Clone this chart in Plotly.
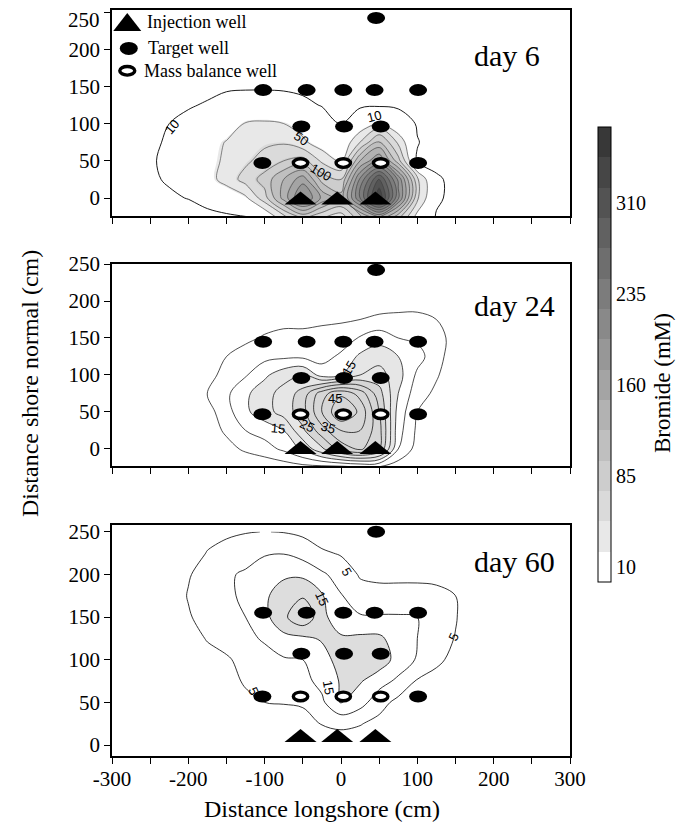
import plotly.graph_objects as go

# ---------------- data ----------------
grid_x = [-275, -250, -225, -200, -175, -150, -125, -100, -75, -50, -25, 0,
          25, 50, 75, 100, 125, 150, 175, 200]
grid_y = [-25, 0, 25, 50, 75, 100, 125, 150, 175, 200, 225, 250]

# Bromide (mM), rows follow grid_y, columns follow grid_x
day6_z = [
    [0, 1, 2, 3, 4, 6, 9, 25, 70, 110, 80, 60, 120, 180, 110, 40, 8, 1, 0, 0],
    [4, 6, 8, 10.5, 18, 30, 45, 90, 160, 230, 170, 135, 250, 370, 230, 80, 14, 3, 0, 0],
    [5, 8, 11.5, 16, 40, 60, 85, 110, 150, 190, 115, 100, 230, 330, 220, 80, 14, 3, 0, 0],
    [5, 9, 12, 17, 40, 55, 70, 85, 100, 110, 70, 48, 150, 200, 110, 8, 2, 0, 0, 0],
    [4, 7, 12, 15, 35, 52, 62, 70, 72, 55, 35, 25, 75, 130, 70, 11, 2, 0, 0, 0],
    [3, 6, 10, 13, 17, 30, 52, 55, 50, 38, 20, 9, 30, 55, 25, 8, 2, 0, 0, 0],
    [1, 3, 7, 9, 11, 15, 18, 18, 16, 14, 9, 5, 6, 6, 6, 5, 1, 0, 0, 0],
    [0, 1, 3, 5, 7, 8, 8, 8, 8, 6, 4, 3, 3, 3, 3, 2, 1, 0, 0, 0],
    [0, 0, 1, 2, 3, 4, 4, 4, 4, 3, 2, 2, 2, 2, 2, 1, 0, 0, 0, 0],
    [0, 0, 0, 1, 1, 2, 2, 2, 2, 2, 1, 1, 1, 1, 1, 0, 0, 0, 0, 0],
    [0] * 20,
    [0] * 20,
]
day24_z = [
    [0, 0, 0, 0, 0, 0, 0, 1, 2, 3, 3, 3, 4, 4, 2, 0, 0, 0, 0, 0],
    [0, 0, 0, 0, 1, 3, 6, 8, 11, 16, 24, 32, 36, 30, 10, 3, 0, 0, 0, 0],
    [0, 0, 0, 0, 2, 6, 10, 12, 15, 24, 33, 40, 40, 32, 12, 4, 1, 0, 0, 0],
    [0, 0, 0, 0, 3, 8, 14, 18, 22, 28, 40, 50, 44, 30, 13, 5, 2, 0, 0, 0],
    [0, 0, 0, 0, 5.2, 9, 14, 18, 22, 27, 38, 44, 38, 27, 15, 7, 4, 0, 0, 0],
    [0, 0, 0, 0, 3, 7, 9.5, 14, 18, 20, 13, 15, 20, 22, 17, 9, 5.5, 2, 0, 0],
    [0, 0, 0, 0, 0, 5, 7, 8.5, 9, 9, 8, 11, 16, 18, 15, 12, 7, 2, 0, 0],
    [0, 0, 0, 0, 0, 3, 4, 5.5, 6, 6, 6, 7, 10.5, 13, 10, 9, 7, 3, 0, 0],
    [0, 0, 0, 0, 0, 0, 1, 3, 4, 4, 4.5, 4.5, 5, 5.8, 6.2, 6.3, 5, 1, 0, 0],
    [0, 0, 0, 0, 0, 0, 0, 1, 2, 2, 2, 2, 2.5, 3, 3, 3, 2, 0, 0, 0],
    [0, 0, 0, 0, 0, 0, 0, 0, 0.5, 0.5, 0.5, 0.5, 0.5, 0.5, 0.5, 0.5, 0, 0, 0, 0],
    [0] * 20,
]
day60_z = [
    [0] * 20,
    [0, 0, 0, 0, 0, 0, 0.5, 1, 1, 1.5, 2, 2.5, 2, 1, 0.5, 0, 0, 0, 0, 0],
    [0, 0, 0, 0, 0, 0.5, 1.5, 2.5, 3, 3.5, 5.2, 6, 5.3, 3.5, 1.5, 0.5, 0, 0, 0, 0],
    [0, 0, 0, 0, 0, 2.5, 4, 5, 5.2, 5.5, 9, 15.5, 12, 7, 3.5, 1.5, 0, 0, 0, 0],
    [0, 0, 0, 0, 0.5, 3.5, 5.5, 6.5, 7.5, 8.5, 11.5, 15.5, 15.5, 12, 9, 4.5, 2.5, 0.5, 0, 0],
    [0, 0, 0, 0, 2.5, 4.2, 7, 8.5, 9.5, 10, 13, 17, 18.5, 18, 13, 9.5, 6.5, 3, 0, 0],
    [0, 0, 0, 2, 5.5, 7.5, 9, 10.5, 13.5, 14, 15.5, 16, 16, 16, 12.5, 10, 7, 4.8, 1, 0],
    [0, 0, 2, 4.5, 7, 8.5, 10, 13.5, 19, 24, 17, 10.5, 10.5, 10.5, 10.5, 10, 7.5, 5.3, 2, 0],
    [0, 0, 2, 5.3, 8, 9.5, 10.5, 14, 18, 19.5, 15.5, 10.3, 7, 6.5, 6.5, 6.5, 6, 5, 2, 0],
    [0, 0, 1, 4.6, 7, 9.5, 10.5, 13, 14, 14, 10.8, 8, 4.5, 4, 4, 4, 4, 3, 1, 0],
    [0, 0, 0, 2, 5.3, 7, 8.5, 9.5, 9.8, 8, 5.8, 4.5, 3, 2, 2, 2, 1, 0, 0, 0],
    [0, 0, 0, 0, 3, 4, 4.7, 5.1, 4.8, 4, 2, 1, 0, 0, 0, 0, 0, 0, 0, 0],
]

# wells (cm)
target_row150_x = [-102, -45, 3, 44, 101]
target_row100_x = [-52, 4, 52]
target_row50_x = [-103, 101]
massbal_x = [-53, 3, 52]
top_well_x = [46]
inject_x = [-53, -5, 45]
# y of rows 150 / 100 / 50 / top well / injection wells, as drawn in each panel
well_rows_y = {
    "day 6": [145, 96, 47, 242, 0],
    "day 24": [145, 96, 47, 242, 2],
    "day 60": [155, 107, 57, 250, 11],
}

x_tick_vals = [-300, -250, -200, -150, -100, -50, 0, 50, 100, 150, 200, 250, 300]
x_tick_text = ["-300", "", "-200", "", "-100", "", "0", "", "100", "", "200", "", "300"]
y_tick_vals = [0, 50, 100, 150, 200, 250]
y_tick_text = ["0", "50", "100", "150", "200", "250"]
cbar_ticks = [10, 85, 160, 235, 310]
cbar_range = [-2.5, 372.5]
band_size = 25

contour_labels = {
    "day 6": [("10", -222, 95, -50), ("50", -52, 80, 35), ("100", -26, 34, 30),
              ("10", 43, 110, -15)],
    "day 24": [("15", -82, 28, 5), ("25", -45, 32, 25), ("35", -17, 29, 15),
               ("45", -8, 68, 0), ("15", 10, 109, -60)],
    "day 60": [("5", 7, 203, 60), ("15", -25, 172, 65), ("5", 148, 127, -65),
               ("15", -16, 68, 80), ("5", -114, 63, 65)],
}
day_label_y = {"day 6": 191, "day 24": 194, "day 60": 215}
legend_items = [("Injection well", 237), ("Target well", 202), ("Mass balance well", 171)]

# ---------------- layout geometry (pixels of the 689x828 window) ----------------
OFF = 8                      # page body margin
W, H = 689 - OFF, 828 - OFF  # figure size
PX_L, PX_R = 112, 570
panels = [
    dict(name="day 6", z=day6_z, top=10, bottom=216, yr=[-24.2, 252.7], ax=""),
    dict(name="day 24", z=day24_z, top=264, bottom=466, yr=[-23, 250], ax="2"),
    dict(name="day 60", z=day60_z, top=525, bottom=756, yr=[-12.9, 258], ax="3"),
]
XR = [-300, 300]
SERIF = "Liberation Serif"
SANS = "Liberation Sans"


def fx(px):
    return (px - OFF) / W


def fy(py):
    return 1 - (py - OFF) / H


# grey steps (style)
n_bands = int(round((cbar_range[1] - cbar_range[0]) / band_size))  # 15
greys = []
for k in range(n_bands - 1):
    t = k / (n_bands - 2)
    g = int(round(232 - t * (232 - 56)))
    greys.append(f"rgb({g},{g},{g})")
band_colors = ["#ffffff"] + greys  # colour bar bands, bottom to top


def stepped(colors):
    n = len(colors)
    cs = []
    for i, c in enumerate(colors):
        cs.append([i / n, c])
        cs.append([(i + 1) / n, c])
    return cs


fig = go.Figure()
shapes = []
annotations = []

for p in panels:
    xa = "x" + p["ax"]
    ya = "y" + p["ax"]
    kx = (PX_R - PX_L) / (XR[1] - XR[0])
    ky = (p["bottom"] - p["top"]) / (p["yr"][1] - p["yr"][0])

    if p["name"] == "day 6":
        # colour bar carrier (invisible)
        fig.add_trace(go.Heatmap(
            x=grid_x, y=grid_y, z=p["z"], xaxis=xa, yaxis=ya, opacity=0,
            zmin=cbar_range[0], zmax=cbar_range[1], colorscale=stepped(band_colors),
            hoverinfo="skip", showscale=True,
            colorbar=dict(thickness=13, thicknessmode="pixels", len=455, lenmode="pixels",
                          x=fx(598), xanchor="left", y=fy(354.5), yanchor="middle",
                          xpad=0, ypad=0, outlinecolor="black", outlinewidth=1,
                          tickvals=cbar_ticks, ticks="",
                          tickfont=dict(family=SERIF, size=20, color="black"))))
        # filled bands: levels 47.5 ... 347.5
        lv0, lv1 = 47.5, 347.5
        nb = int(round((lv1 - lv0) / band_size)) + 2  # bands incl. below/above
        fill_cols = ["#ffffff"] + greys[:nb - 1]
        cs = []
        for i, c in enumerate(fill_cols):
            a = max(0.0, (i - 0.5) / (nb - 1))
            b = min(1.0, (i + 0.5) / (nb - 1))
            cs.append([a, c])
            cs.append([b, c])
        fig.add_trace(go.Contour(
            x=grid_x, y=grid_y, z=p["z"], xaxis=xa, yaxis=ya,
            contours=dict(start=lv0, end=lv1, size=band_size, coloring="fill", showlines=False),
            colorscale=cs, line=dict(width=0, smoothing=1.0),
            hoverinfo="skip", showscale=False))
        fig.add_trace(go.Contour(
            x=grid_x, y=grid_y, z=p["z"], xaxis=xa, yaxis=ya,
            contours=dict(start=50, end=350, size=25, coloring="none"),
            line=dict(color="#3c3c3c", width=0.6, smoothing=1.0),
            hoverinfo="skip", showscale=False))
        fig.add_trace(go.Contour(
            x=grid_x, y=grid_y, z=p["z"], xaxis=xa, yaxis=ya,
            contours=dict(start=10, end=10, size=1, coloring="none"),
            line=dict(color="black", width=0.9, smoothing=1.0),
            hoverinfo="skip", showscale=False))
    elif p["name"] == "day 24":
        fig.add_trace(go.Contour(
            x=grid_x, y=grid_y, z=p["z"], xaxis=xa, yaxis=ya,
            contours=dict(start=15, end=25, size=10, coloring="fill", showlines=False),
            colorscale=[[0, "#ffffff"], [0.33, "#ffffff"], [0.34, "#e6e6e6"], [0.66, "#e6e6e6"],
                        [0.67, "#d6d6d6"], [1, "#d6d6d6"]],
            line=dict(width=0, smoothing=1.0), hoverinfo="skip", showscale=False))
        fig.add_trace(go.Contour(
            x=grid_x, y=grid_y, z=p["z"], xaxis=xa, yaxis=ya,
            contours=dict(start=5, end=50, size=5, coloring="none"),
            line=dict(color="black", width=0.7, smoothing=1.0),
            hoverinfo="skip", showscale=False))
    else:
        fig.add_trace(go.Contour(
            x=grid_x, y=grid_y, z=p["z"], xaxis=xa, yaxis=ya,
            contours=dict(start=15, end=15, size=10, coloring="fill", showlines=False),
            colorscale=[[0, "#ffffff"], [0.5, "#ffffff"], [0.5, "#dddddd"], [1, "#dddddd"]],
            line=dict(width=0, smoothing=1.0), hoverinfo="skip", showscale=False))
        fig.add_trace(go.Contour(
            x=grid_x, y=grid_y, z=p["z"], xaxis=xa, yaxis=ya,
            contours=dict(start=5, end=20, size=5, coloring="none"),
            line=dict(color="black", width=0.8, smoothing=1.0),
            hoverinfo="skip", showscale=False))

    # wells
    wy = well_rows_y[p["name"]]

    def ellipse(cx, cy, hw_px, hh_px, fill, lw):
        shapes.append(dict(type="circle", xref=xa, yref=ya,
                           x0=cx - hw_px / kx, x1=cx + hw_px / kx,
                           y0=cy - hh_px / ky, y1=cy + hh_px / ky,
                           fillcolor=fill, line=dict(color="black", width=lw)))

    def triangle(cx, cy, hw_px, hh_px):
        x0, x1 = cx - hw_px / kx, cx + hw_px / kx
        y0, y1 = cy - hh_px / ky, cy + hh_px / ky
        shapes.append(dict(type="path", xref=xa, yref=ya,
                           path=f"M {x0},{y0} L {x1},{y0} L {cx},{y1} Z",
                           fillcolor="black", line=dict(color="black", width=0)))

    for x in target_row150_x:
        ellipse(x, wy[0], 9, 6, "black", 0)
    for x in target_row100_x:
        ellipse(x, wy[1], 9, 6, "black", 0)
    for x in target_row50_x:
        ellipse(x, wy[2], 9, 6, "black", 0)
    for x in top_well_x:
        ellipse(x, wy[3], 9, 6, "black", 0)
    for x in massbal_x:
        ellipse(x, wy[2], 7.2, 4.3, "white", 3.4)
    for x in inject_x:
        triangle(x, wy[4], 16, 6.5)

    # contour labels
    for txt, lx, ly, ang in contour_labels[p["name"]]:
        annotations.append(dict(x=lx, y=ly, xref=xa, yref=ya, text=txt, showarrow=False,
                                xanchor="center", yanchor="middle",
                                textangle=ang, font=dict(family=SANS, size=13, color="black")))
    # day label
    annotations.append(dict(x=172, y=day_label_y[p["name"]], xref=xa, yref=ya, text=p["name"],
                            showarrow=False, xanchor="left", yanchor="middle",
                            font=dict(family=SERIF, size=30, color="black")))

    # legend in the first panel
    if p["name"] == "day 6":
        triangle(-280, 236.5, 14, 9)
        ellipse(-278, 201, 9, 6.5, "black", 0)
        ellipse(-280, 171, 7.5, 4.3, "white", 3.4)
        for (txt, ly), lx in zip(legend_items, [-257, -256, -261]):
            annotations.append(dict(x=lx, y=ly, xref=xa, yref=ya, text=txt, showarrow=False,
                                    xanchor="left", yanchor="middle",
                                    font=dict(family=SERIF, size=18, color="black")))

    # top panel: the highest tick label would run past the page top, so it is
    # written as an annotation nudged just inside the page
    ytext = list(y_tick_text)
    if p["name"] == "day 6":
        ytext[-1] = ""
        annotations.append(dict(x=fx(102), y=fy(20), xref="paper", yref="paper",
                                xanchor="right", yanchor="middle", text=y_tick_text[-1],
                                showarrow=False, font=dict(family=SERIF, size=21, color="black")))

    # axes
    fig.update_layout({
        "xaxis" + p["ax"]: dict(domain=[fx(PX_L), fx(PX_R)], range=XR, anchor=ya,
                                 tickvals=x_tick_vals,
                                 ticktext=x_tick_text if p["name"] == "day 60" else [""] * len(x_tick_vals),
                                 ticks="outside", ticklen=6, tickwidth=1, tickcolor="black",
                                 ticklabelstandoff=-3,
                                 showline=True, mirror=True, linecolor="black", linewidth=1.5,
                                 showgrid=False, zeroline=False, automargin=False,
                                 tickfont=dict(family=SERIF, size=21, color="black")),
        "yaxis" + p["ax"]: dict(domain=[fy(p["bottom"]), fy(p["top"])], range=p["yr"], anchor=xa,
                                 tickvals=y_tick_vals, ticktext=ytext,
                                 ticks="outside", ticklen=6, tickwidth=1, tickcolor="black",
                                 showline=True, mirror=True, linecolor="black", linewidth=1.5,
                                 showgrid=False, zeroline=False, automargin=False,
                                 tickfont=dict(family=SERIF, size=21, color="black")),
    })

annotations.append(dict(x=fx(322), y=fy(809), xref="paper", yref="paper",
                        xanchor="center", yanchor="middle",
                        text="Distance longshore (cm)", showarrow=False,
                        font=dict(family=SERIF, size=24, color="black")))
annotations.append(dict(x=fx(30), y=fy(384), xref="paper", yref="paper",
                        xanchor="center", yanchor="middle",
                        text="Distance shore normal (cm)", showarrow=False, textangle=-90,
                        font=dict(family=SERIF, size=24, color="black")))
annotations.append(dict(x=fx(663), y=fy(383), xref="paper", yref="paper",
                        xanchor="center", yanchor="middle",
                        text="Bromide (mM)", showarrow=False, textangle=-90,
                        font=dict(family=SERIF, size=23, color="black")))

fig.update_layout(width=W, height=H, margin=dict(l=0, r=0, t=0, b=0, autoexpand=False),
                  paper_bgcolor="white", plot_bgcolor="white", showlegend=False,
                  shapes=shapes, annotations=annotations)

fig.write_html("out.html")
